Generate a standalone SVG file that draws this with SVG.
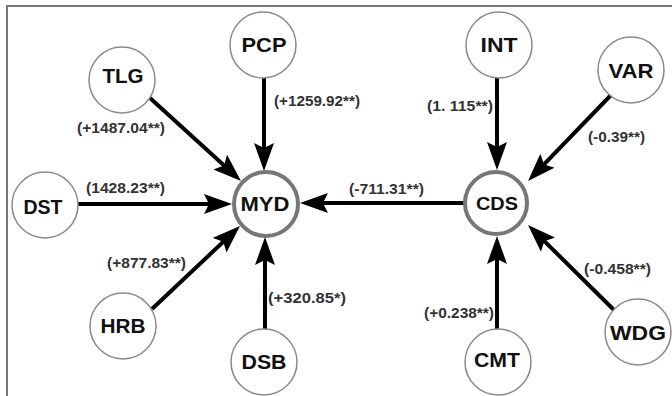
<svg xmlns="http://www.w3.org/2000/svg" width="672" height="396" viewBox="0 0 672 396">
<style>
.node circle{fill:#fff;stroke:#8a8a8a;stroke-width:1.5}
.hub circle{fill:#fff;stroke:#777;stroke-width:4}
.nl{font-family:"Liberation Sans",Arial,sans-serif;font-weight:bold;font-size:20px;fill:#111;text-anchor:middle}
.el{font-family:"Liberation Sans",Arial,sans-serif;font-weight:bold;font-size:14px;fill:#333}
.edge{stroke:#000;stroke-width:4;fill:none;marker-end:url(#ah)}
.frame{stroke:#777;stroke-width:2;fill:none}
</style>
<defs>
<marker id="ah" viewBox="0 0 28 20" refX="20" refY="10" markerWidth="28" markerHeight="20" markerUnits="userSpaceOnUse" orient="auto">
<path d="M0,0 L28,10 L0,20 L5,10 Z" fill="#000"/>
</marker>
</defs>
<rect width="672" height="396" fill="#fff"/>
<path class="frame" d="M7,396 V6 H672"/>
<g id="connectors">
<line class="edge" x1="264" y1="78" x2="264" y2="163"/>
<line class="edge" x1="150" y1="98" x2="235.1" y2="175.6"/>
<line class="edge" x1="78" y1="204" x2="224" y2="204"/>
<line class="edge" x1="152" y1="309" x2="234.2" y2="231.5"/>
<line class="edge" x1="265" y1="329" x2="265" y2="245"/>
<line class="edge" x1="464" y1="203" x2="308" y2="203"/>
<line class="edge" x1="497" y1="78" x2="497" y2="162"/>
<line class="edge" x1="612" y1="94" x2="533.6" y2="175.2"/>
<line class="edge" x1="497" y1="329" x2="497" y2="244"/>
<line class="edge" x1="614" y1="310" x2="533.7" y2="230.6"/>
</g>
<g id="edge-labels">
<text class="el" x="77" y="133" textLength="88" lengthAdjust="spacingAndGlyphs">(+1487.04**)</text>
<text class="el" x="274" y="106" textLength="86" lengthAdjust="spacingAndGlyphs">(+1259.92**)</text>
<text class="el" x="86" y="193" textLength="79" lengthAdjust="spacingAndGlyphs">(1428.23**)</text>
<text class="el" x="107" y="268" textLength="79" lengthAdjust="spacingAndGlyphs">(+877.83**)</text>
<text class="el" x="268" y="303" textLength="78" lengthAdjust="spacingAndGlyphs">(+320.85*)</text>
<text class="el" x="349" y="194" textLength="75" lengthAdjust="spacingAndGlyphs">(-711.31**)</text>
<text class="el" x="427" y="111" textLength="66" lengthAdjust="spacingAndGlyphs">(1. 115**)</text>
<text class="el" x="588" y="142" textLength="57" lengthAdjust="spacingAndGlyphs">(-0.39**)</text>
<text class="el" x="424" y="318" textLength="70" lengthAdjust="spacingAndGlyphs">(+0.238**)</text>
<text class="el" x="584" y="274" textLength="67" lengthAdjust="spacingAndGlyphs">(-0.458**)</text>
</g>
<g id="PCP" class="node"><circle cx="263" cy="45" r="33"/><text class="nl" x="264" y="52" textLength="45" lengthAdjust="spacingAndGlyphs">PCP</text></g>
<g id="TLG" class="node"><circle cx="122" cy="80" r="33"/><text class="nl" x="123" y="83" textLength="41" lengthAdjust="spacingAndGlyphs">TLG</text></g>
<g id="DST" class="node"><circle cx="45" cy="205" r="33"/><text class="nl" x="43" y="214" textLength="39" lengthAdjust="spacingAndGlyphs">DST</text></g>
<g id="HRB" class="node"><circle cx="123" cy="326" r="33"/><text class="nl" x="123" y="333" textLength="45" lengthAdjust="spacingAndGlyphs">HRB</text></g>
<g id="DSB" class="node"><circle cx="264" cy="362" r="33"/><text class="nl" x="264" y="369" textLength="45" lengthAdjust="spacingAndGlyphs">DSB</text></g>
<g id="MYD" class="hub"><circle cx="266" cy="204" r="32"/><text class="nl" x="265" y="211" textLength="49" lengthAdjust="spacingAndGlyphs">MYD</text></g>
<g id="CDS" class="hub"><circle cx="496" cy="203" r="31"/><text class="nl" x="497" y="210" textLength="42" lengthAdjust="spacingAndGlyphs" style="font-size:18px">CDS</text></g>
<g id="INT" class="node"><circle cx="499" cy="45" r="33"/><text class="nl" x="499" y="52" textLength="37" lengthAdjust="spacingAndGlyphs">INT</text></g>
<g id="VAR" class="node"><circle cx="631" cy="70" r="33"/><text class="nl" x="631" y="78" textLength="45" lengthAdjust="spacingAndGlyphs">VAR</text></g>
<g id="CMT" class="node"><circle cx="498" cy="362" r="33"/><text class="nl" x="497" y="367" textLength="46" lengthAdjust="spacingAndGlyphs">CMT</text></g>
<g id="WDG" class="node"><circle cx="638" cy="332" r="33"/><text class="nl" x="638" y="340" textLength="56" lengthAdjust="spacingAndGlyphs">WDG</text></g>
</svg>
